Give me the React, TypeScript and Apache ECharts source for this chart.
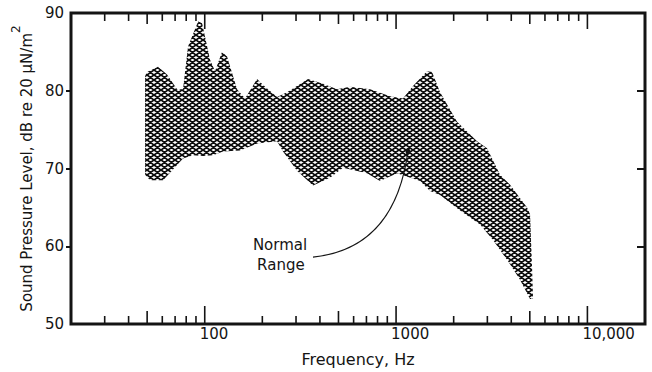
import React, { useEffect, useRef } from "react";
import * as echarts from "echarts";

// Upper edge of the "Normal Range" band (Hz, dB)
const upperFreq = [48.8, 49.9, 57.0, 63.5, 71.7, 77.0, 81.8, 92.3, 96.8, 106.6, 113.2, 123.1, 130.8, 147.5, 162.4, 187.7, 206.7, 238.8, 269.2, 346.7, 415.2, 491.4, 574.8, 730.9, 929.9, 1087, 1226, 1451, 1542, 1698, 2083, 2650, 2988, 3494, 3942, 4836, 5014, 5136, 5199];
const upperDb = [81.9, 82.4, 83.1, 82.1, 80.2, 80.2, 85.7, 88.9, 88.7, 84.0, 82.5, 85.0, 84.4, 80.2, 79.0, 81.5, 80.5, 79.2, 79.8, 81.5, 80.9, 80.2, 80.5, 80.2, 79.3, 79.0, 80.6, 82.5, 82.4, 79.8, 76.0, 73.5, 72.6, 69.2, 67.9, 65.0, 64.1, 57.4, 53.2];
// Lower edge of the band
const lowerFreq = [48.8, 51.8, 60.6, 77.0, 86.9, 98.0, 110.5, 124.6, 152.9, 187.7, 238.8, 256.6, 303.7, 368.1, 451.7, 528.2, 705.1, 824.6, 1012, 1335, 1505, 1698, 2159, 2747, 3212, 3942, 4445, 5014];
const lowerDb = [69.2, 68.5, 68.5, 71.3, 71.7, 71.6, 71.7, 72.2, 72.3, 73.2, 73.5, 72.2, 69.7, 67.8, 68.8, 70.1, 69.4, 68.4, 69.4, 68.4, 67.1, 66.6, 64.6, 62.8, 60.8, 57.7, 55.7, 53.2];

// Frequency ticks
const xMajorTicks = [100, 1000, 10000];
const xTickLabels = ["100", "1000", "10,000"];
const xMidTicks = [50, 500, 5000];
const xMinorTicks = [30, 40, 60, 70, 80, 90, 200, 300, 400, 600, 700, 800, 900, 2000, 3000, 4000, 6000, 7000, 8000, 9000];
const yTickValues = [60, 70, 80];

// Annotation anchors (Hz, dB)
const labelNormal = [247.5, 60.2];
const labelRange = [250, 57.6];
const arrowStart = [368, 58.6];
const arrowCtrl = [988, 59.7];
const arrowTip = [1155, 72.3];

const FONT = "DejaVu Sans";
const INK = "#141414";

const hatchSvg =
  "<svg xmlns='http://www.w3.org/2000/svg' width='7' height='5'><path d='M-1,-0.714L8,5.714M6,-0.714L15,5.714M-8,-0.714L1,5.714M-1,5.714L8,-0.714M6,5.714L15,-0.714M-8,5.714L1,-0.714' stroke='#0c0c0c' stroke-width='1.75' fill='none'/></svg>";
const hatchUrl = "data:image/svg+xml;charset=utf-8," + encodeURIComponent(hatchSvg);

export default function App() {
  const ref = useRef<HTMLDivElement>(null);
  useEffect(() => {
    document.body.style.margin = "0";
    if (!ref.current) return;
    const chart = echarts.init(ref.current, null, { renderer: "svg" });

    const tickData: number[][] = [];
    xMajorTicks.forEach((f, i) => tickData.push([f, 50, 2, i]));
    xMidTicks.forEach((f) => tickData.push([f, 50, 1, -1]));
    xMinorTicks.forEach((f) => tickData.push([f, 50, 0, -1]));

    const option: any = {
      animation: false,
      grid: {
        left: 71,
        right: 7,
        top: 13,
        bottom: 44,
        show: true,
        borderColor: INK,
        borderWidth: 3,
        backgroundColor: "transparent",
      },
      xAxis: {
        type: "log",
        logBase: 10,
        min: 20,
        max: 20000,
        axisLine: { show: false },
        axisTick: { show: false },
        axisLabel: { show: false },
        splitLine: { show: false },
        name: "Frequency, Hz",
        nameLocation: "middle",
        nameGap: 27,
        nameTextStyle: { fontFamily: FONT, fontSize: 16, color: INK },
      },
      yAxis: [
        {
          type: "value",
          min: 50,
          max: 90,
          interval: 10,
          position: "left",
          axisLine: { show: false },
          axisTick: { show: true, inside: false, length: 5, customValues: yTickValues, lineStyle: { color: INK, width: 2 } },
          axisLabel: { fontFamily: FONT, fontSize: 15, color: INK, margin: 7 },
          splitLine: { show: false },
          name: "{t|Sound Pressure Level, dB re 20 μN/m}{sup|2}",
          nameLocation: "middle",
          nameGap: 31,
          nameRotate: 90,
          nameTextStyle: {
            fontFamily: FONT,
            color: INK,
            rich: {
              t: { fontFamily: FONT, fontSize: 15, color: INK, lineHeight: 24, verticalAlign: "bottom" },
              sup: { fontFamily: FONT, fontSize: 12, color: INK, lineHeight: 24, verticalAlign: "top" },
            },
          },
        },
        {
          type: "value",
          min: 50,
          max: 90,
          interval: 10,
          position: "right",
          axisLine: { show: false },
          axisTick: { show: true, inside: true, length: 8, customValues: yTickValues, lineStyle: { color: INK, width: 2 } },
          axisLabel: { show: false },
          splitLine: { show: false },
        },
      ],
      series: [
        {
          type: "custom",
          name: "Normal Range",
          data: [[upperFreq[0], upperDb[0]]],
          renderItem: (params: any, api: any) => {
            const pts: number[][] = [];
            for (let i = 0; i < upperFreq.length; i++) pts.push(api.coord([upperFreq[i], upperDb[i]]));
            for (let i = lowerFreq.length - 1; i >= 0; i--) pts.push(api.coord([lowerFreq[i], lowerDb[i]]));
            return {
              type: "polygon",
              shape: { points: pts },
              style: {
                fill: { image: hatchUrl, repeat: "repeat", imageWidth: 7, imageHeight: 5 },
                stroke: "none",
              },
            };
          },
        },
        {
          type: "custom",
          name: "ticks",
          data: tickData,
          renderItem: (params: any, api: any) => {
            const f = api.value(0);
            const kind = api.value(2);
            const idx = api.value(3);
            const pb = api.coord([f, 50]);
            const pt = api.coord([f, 90]);
            const lb = kind === 2 ? 18 : kind === 1 ? 13 : 8;
            const lt = kind === 2 ? 16 : kind === 1 ? 11 : 8;
            const children: any[] = [
              { type: "line", shape: { x1: pb[0], y1: pb[1], x2: pb[0], y2: pb[1] - lb }, style: { stroke: INK, lineWidth: 1.6 } },
              { type: "line", shape: { x1: pt[0], y1: pt[1], x2: pt[0], y2: pt[1] + lt }, style: { stroke: INK, lineWidth: 1.6 } },
            ];
            if (kind === 2 && idx >= 0) {
              children.push({
                type: "text",
                style: {
                  text: xTickLabels[idx],
                  x: pb[0] - 5,
                  y: pb[1] + 10,
                  align: "left",
                  verticalAlign: "middle",
                  fontFamily: FONT,
                  fontSize: 15,
                  fill: INK,
                },
              });
            }
            return { type: "group", children };
          },
        },
        {
          type: "custom",
          name: "annotation",
          data: [[arrowTip[0], arrowTip[1]]],
          renderItem: (params: any, api: any) => {
            const s = api.coord(arrowStart);
            const c = api.coord(arrowCtrl);
            const t = api.coord(arrowTip);
            const n = api.coord(labelNormal);
            const r = api.coord(labelRange);
            return {
              type: "group",
              children: [
                {
                  type: "bezierCurve",
                  shape: { x1: s[0], y1: s[1], x2: t[0], y2: t[1], cpx1: c[0], cpy1: c[1] },
                  style: { stroke: INK, lineWidth: 1.1, fill: "none" },
                },
                { type: "ellipse", shape: { cx: t[0], cy: t[1] + 1, rx: 2.5, ry: 3.2 }, style: { fill: INK } },
                {
                  type: "text",
                  style: { text: "Normal", x: n[0], y: n[1], align: "center", verticalAlign: "middle", fontFamily: FONT, fontSize: 15, fill: INK },
                },
                {
                  type: "text",
                  style: { text: "Range", x: r[0], y: r[1], align: "center", verticalAlign: "middle", fontFamily: FONT, fontSize: 15, fill: INK },
                },
              ],
            };
          },
        },
      ],
    };
    chart.setOption(option);
    return () => chart.dispose();
  }, []);
  return <div ref={ref} style={{ width: 652, height: 372 }} />;
}
